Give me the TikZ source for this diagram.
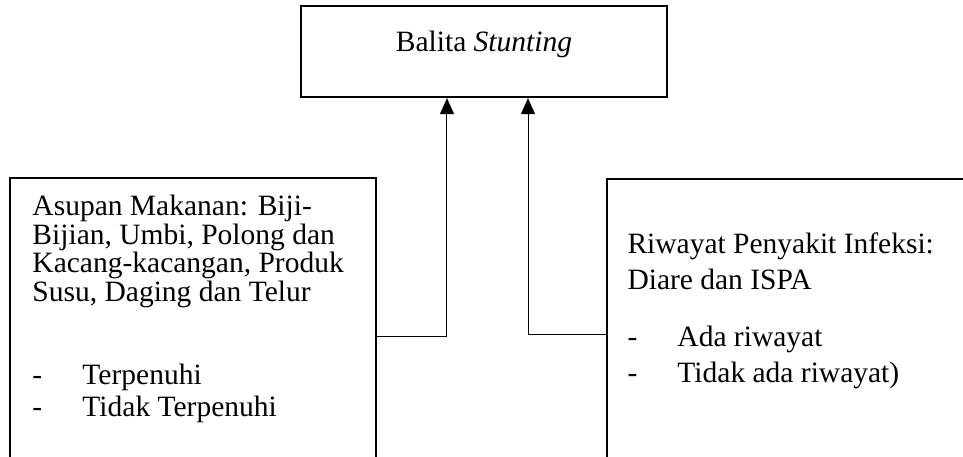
\documentclass[tikz,border=0pt]{standalone}
\usepackage{fontspec}
\setmainfont{Liberation Serif}
\usetikzlibrary{arrows.meta,positioning}
\tikzset{
 box/.style={draw,line width=0.9pt,minimum width=146.4pt,inner sep=0pt},
 txt/.style={align=left,inner sep=0pt,anchor=north west,
             font=\fontsize{11.8pt}{11.4pt}\selectfont},
 wide/.style={align=left,inner sep=0pt,anchor=north west,
             font=\fontsize{11.8pt}{14.4pt}\selectfont},
 lst/.style={align=left,inner sep=0pt,anchor=north west,
             font=\fontsize{11.8pt}{12.8pt}\selectfont},
 arrow/.style={-{Triangle[length=6.4pt,width=5.6pt]},line width=0.4pt},
}
\newcommand{\dash}{\makebox[20pt][l]{-}}

\begin{document}
\begin{tikzpicture}[x=0.4pt,y=-0.4pt]
\useasboundingbox (0,0) rectangle (963,456);
\clip (0,0) rectangle (963,456);
\node[box,minimum height=36.4pt,text height=8.2pt,text depth=8.4pt,
      font=\fontsize{11.8pt}{11.4pt}\selectfont] (stunting) at (484,51.5) {Balita \textit{Stunting}};
\node[box,minimum height=126.4pt,anchor=north west] (asupanbox) at (9,177) {};
\node[box,minimum height=124pt,anchor=north west] (riwayatbox) at (606,178) {};
% isi kotak kiri
\node[txt] (asupan) at (32,195) {Asupan Makanan: Biji-\\Bijian, Umbi, Polong dan\\Kacang-kacangan, Produk\\Susu, Daging dan Telur};
\node[lst] (asupanlist) at (32,364) {\dash Terpenuhi\\\dash Tidak Terpenuhi};
% isi kotak kanan
\node[wide] (riwayat) at (627,232) {Riwayat Penyakit Infeksi:\\Diare dan ISPA};
\node[wide] (riwayatlist) at (627,326) {\dash Ada riwayat\\\dash Tidak ada riwayat)};
\draw[arrow] (asupanbox.east) -| ([xshift=-14.8pt]stunting.south);
\draw[arrow] (riwayatbox.west) -| ([xshift=17.6pt]stunting.south);
\end{tikzpicture}
\end{document}
